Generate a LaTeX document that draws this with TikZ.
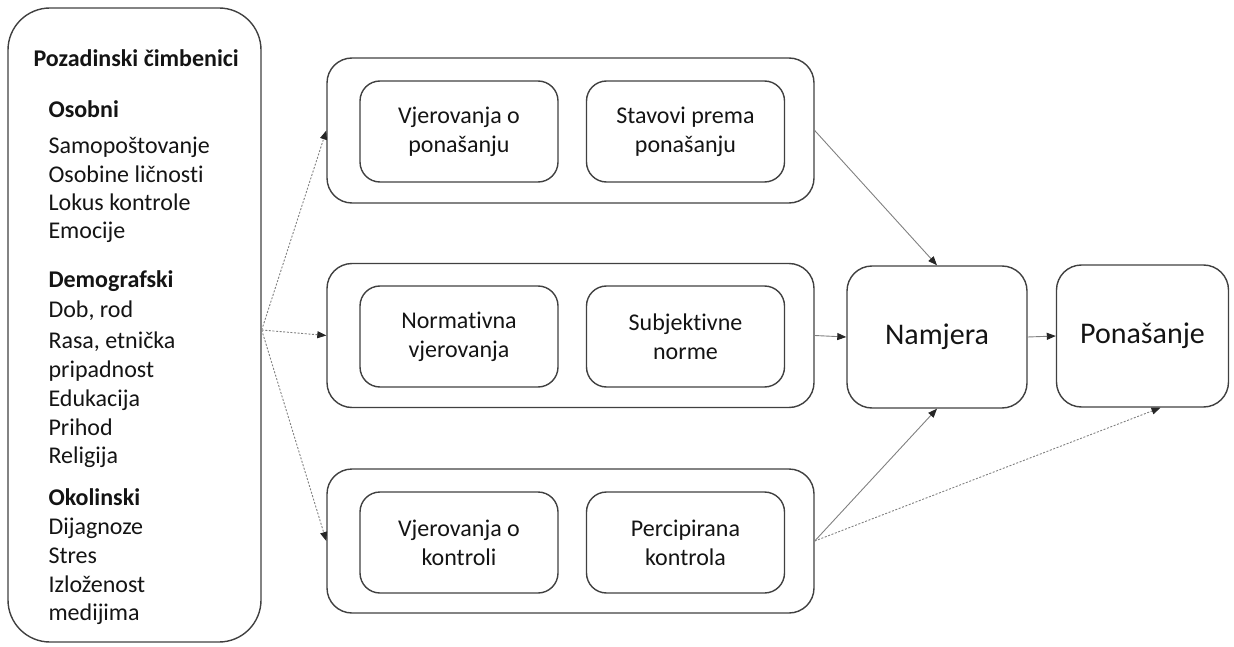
\documentclass[tikz,border=0pt]{standalone}
\usepackage{fontspec}
\setmainfont{Carlito}[Ligatures=NoCommon]
\usetikzlibrary{arrows.meta}

\definecolor{boxgray}{HTML}{404040}
\definecolor{arrgray}{HTML}{808080}

\begin{document}
\begin{tikzpicture}[x=1pt, y=-1pt,
    box/.style={draw=boxgray, line width=1.4pt, rounded corners=#1, inner sep=0pt, align=center},
    box/.default=20pt,
    txt/.style={font=\fontsize{24}{29}\selectfont, text=black!92},
    arr/.style={draw=arrgray, line width=0.9pt, -{Triangle[length=9pt, width=7pt, color=black!85]}},
    dotarr/.style={arr, dash pattern=on 2pt off 1.6pt}]
    \useasboundingbox (0,0) rectangle (1234,647);

    % background factors
    \node[box=42pt, minimum width=253, minimum height=634] (bg) at (134.5,325) {};
    \node[txt, anchor=base west, font=\fontsize{24}{29}\selectfont\bfseries] (title) at (30,67) {Pozadinski čimbenici};
    \foreach \y/\t in {118/Osobni, 287/Demografski, 505/Okolinski}
        \node[txt, anchor=base west, font=\fontsize{24}{29}\selectfont\bfseries] (h\y) at (45,\y) {\t};
    \foreach \y/\t in {154/Samopoštovanje, 183/Osobine ličnosti, 211/Lokus kontrole, 239/Emocije,
                       317/{Dob, rod}, 348/{Rasa, etnička}, 377/pripadnost, 406/Edukacija, 435/Prihod, 463/Religija,
                       534/Dijagnoze, 563/Stres, 592/Izloženost, 620/medijima}
        \node[txt, anchor=base west] (f\y) at (45,\y) {\t};

    % groups
    \node[box=25pt, minimum width=487, minimum height=145] (beh) at (570.5,130.5) {};
    \node[box=25pt, minimum width=487, minimum height=144] (norm) at (570.5,335.5) {};
    \node[box=25pt, minimum width=487, minimum height=144] (ctrl) at (570.5,541) {};

    \node[box, txt, minimum width=198, minimum height=101] (vjerpon) at (459,131.5) {Vjerovanja o\\ponašanju};
    \node[box, txt, minimum width=198, minimum height=101] (stavovi) at (685.5,131.5) {Stavovi prema\\ponašanju};
    \node[box, txt, minimum width=198, minimum height=101] (normvj) at (459,336.5) {Normativna\\vjerovanja};
    \node[box, txt, minimum width=198, minimum height=101] (subj) at (685.5,336.5) {Subjektivne\\norme};
    \node[box, txt, minimum width=198, minimum height=101] (vjerkon) at (459,542.5) {Vjerovanja o\\kontroli};
    \node[box, txt, minimum width=198, minimum height=101] (perc) at (685.5,542.5) {Percipirana\\kontrola};

    % outcome
    \node[box=25pt, txt, font=\fontsize{30}{36}\selectfont, minimum width=180, minimum height=142] (namjera) at (937,337) {Namjera};
    \node[box=25pt, txt, font=\fontsize{30}{36}\selectfont, minimum width=172, minimum height=142] (ponasanje) at (1142.5,336) {Ponašanje};

    % connectors
    \coordinate (src) at ([yshift=-5pt]bg.east);
    \draw[dotarr] (src) -- (beh.west);
    \draw[dotarr] (src) -- (norm.west);
    \draw[dotarr] (src) -- (ctrl.west);

    \draw[arr] (beh.east) -- (namjera.north);
    \draw[arr] (norm.east) -- (namjera.west);
    \draw[arr] (ctrl.east) -- (namjera.south);
    \draw[arr] (namjera.east) -- (ponasanje.west);
    \draw[dotarr] (ctrl.east) -- ([xshift=18pt]ponasanje.south);
\end{tikzpicture}
\end{document}
